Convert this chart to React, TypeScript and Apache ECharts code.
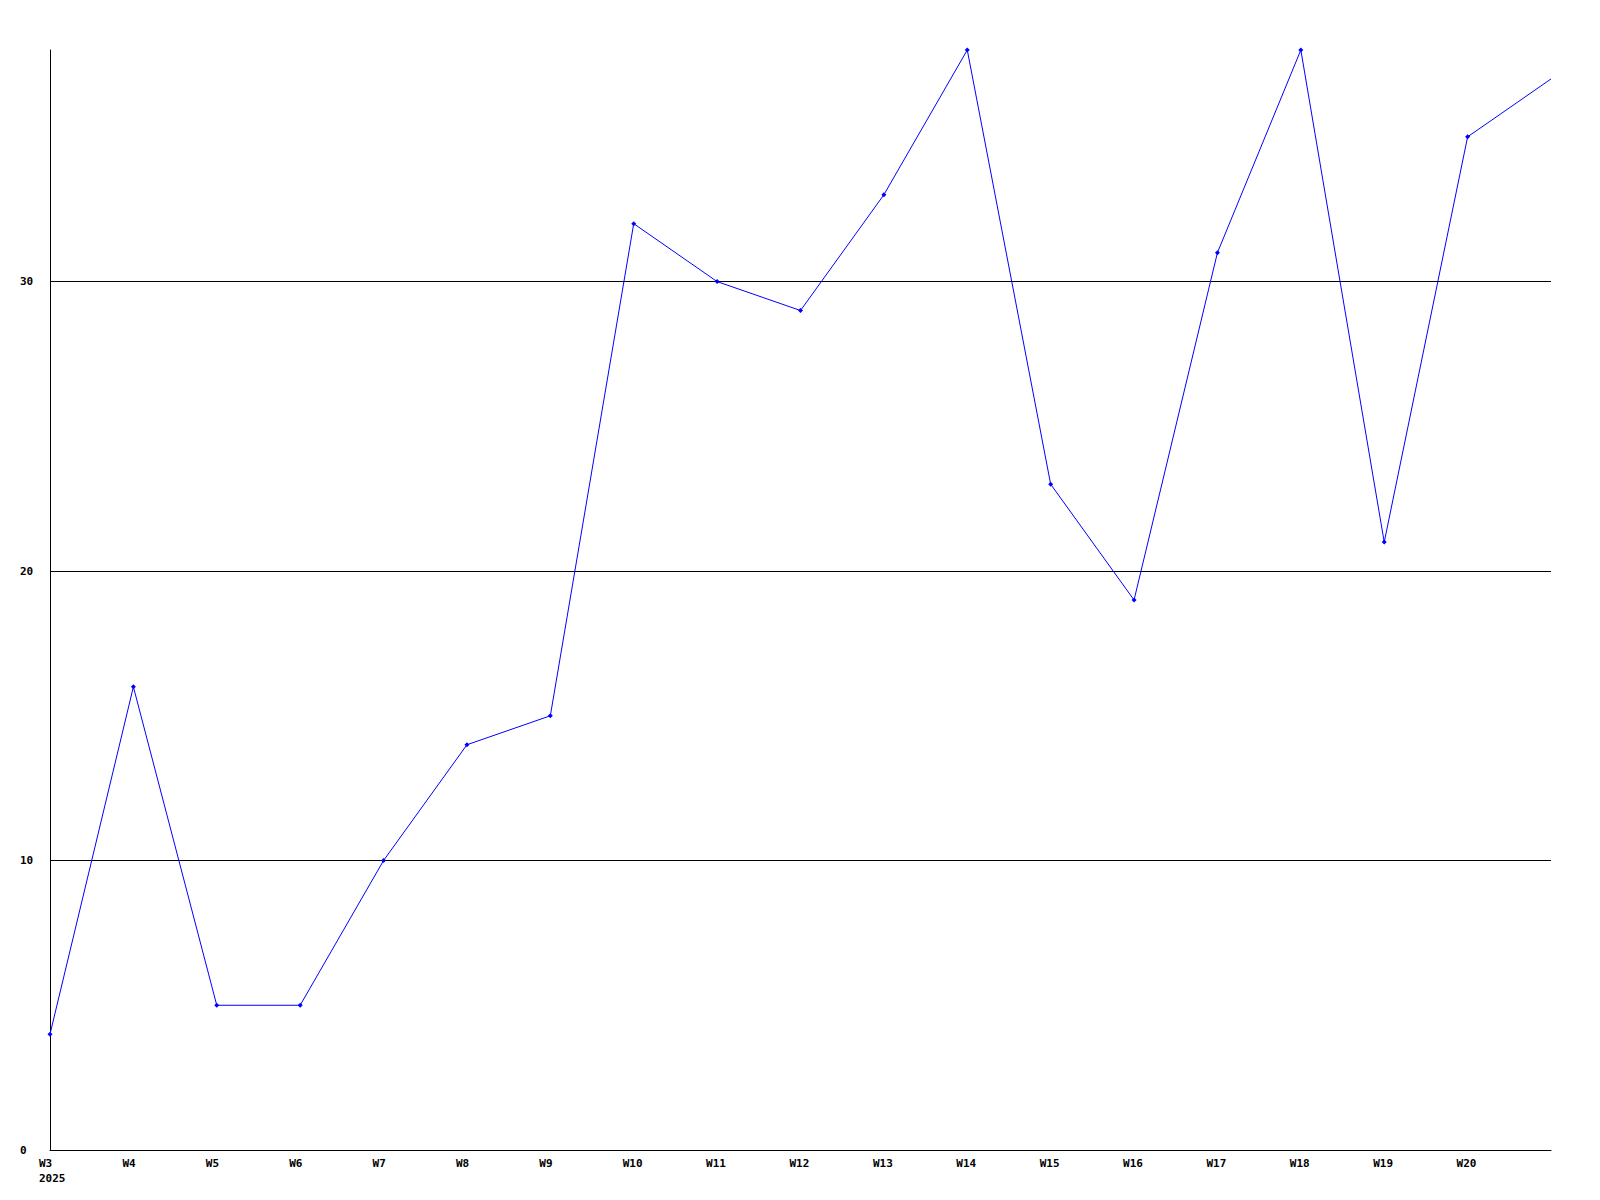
import React, { useEffect, useRef } from "react";
import * as echarts from "echarts";

const weeks = ["W3", "W4", "W5", "W6", "W7", "W8", "W9", "W10", "W11", "W12", "W13", "W14", "W15", "W16", "W17", "W18", "W19", "W20", "W21"];
const values = [4, 16, 5, 5, 10, 14, 15, 32, 30, 29, 33, 38, 23, 19, 31, 38, 21, 35, 37];
const yearLabel = "2025";
const hiddenLabels = ["W21"];
const gridValues = [10, 20, 30];

export default function App() {
  const ref = useRef<HTMLDivElement>(null);
  useEffect(() => {
    if (!ref.current) return;
    const chart = echarts.init(ref.current, null, { renderer: "svg" });
    const font = { fontFamily: "DejaVu Sans Mono", fontWeight: "bold" as const, fontSize: 11, color: "#000" };
    chart.setOption({
      animation: false,
      backgroundColor: "#fff",
      grid: { left: 50, right: 49, top: 50, bottom: 50, containLabel: false },
      xAxis: {
        type: "category",
        data: weeks,
        boundaryGap: false,
        axisLine: { show: true, lineStyle: { color: "#000", width: 1 } },
        axisTick: { show: false },
        splitLine: { show: false },
        axisLabel: {
          ...font,
          interval: 0,
          margin: 6,
          align: "left",
          padding: [0, 0, 0, -11],
          lineHeight: 15,
          verticalAlign: "top",
          formatter: (v: string, i: number) =>
            hiddenLabels.includes(v) ? "" : i === 0 ? `${v}\n${yearLabel}` : v,
        },
      },
      yAxis: {
        type: "value",
        min: 0,
        max: 38,
        interval: 10,
        axisLine: { show: true, lineStyle: { color: "#000", width: 1 } },
        axisTick: { show: false },
        splitLine: { show: false },
        axisLabel: { ...font, align: "left", margin: 30, showMaxLabel: false },
      },
      series: [
        {
          type: "line",
          data: values.map((v, i) =>
            hiddenLabels.includes(weeks[i]) ? { value: v, symbol: "none" } : v
          ),
          symbol: "diamond",
          symbolSize: 5,
          showSymbol: true,
          lineStyle: { color: "#0000ff", width: 1 },
          itemStyle: { color: "#0000ff" },
          clip: true,
          z: 3,
          markLine: {
            silent: true,
            symbol: "none",
            label: { show: false },
            lineStyle: { color: "#000", width: 1, type: "solid" },
            emphasis: { disabled: true },
            data: gridValues.map((g) => ({ yAxis: g })),
            z: 1,
          },
        },
      ],
    });
    return () => chart.dispose();
  }, []);
  return (
    <div
      ref={ref}
      style={{ position: "fixed", left: 0, top: 0, width: 1600, height: 1200, background: "#fff" }}
    />
  );
}
